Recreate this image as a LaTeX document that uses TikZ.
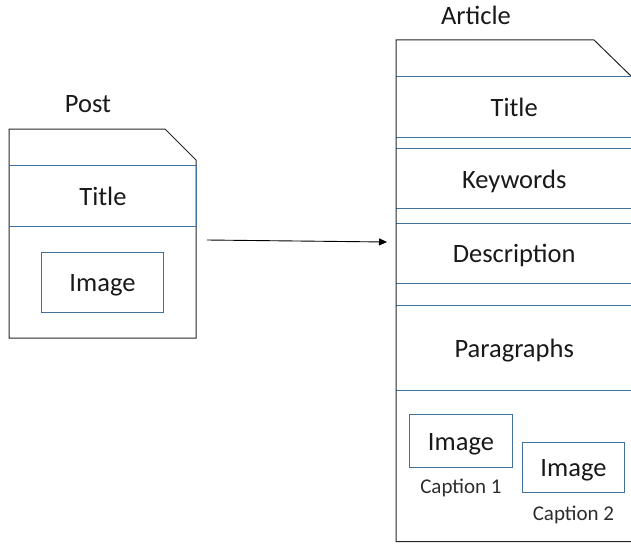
\documentclass[tikz,border=0pt]{standalone}
\usepackage{fontspec}
\setmainfont{Carlito}
\usetikzlibrary{arrows.meta}
\definecolor{bandblue}{RGB}{65,113,156}
\definecolor{txt}{RGB}{25,25,25}
\definecolor{captxt}{RGB}{45,45,45}
\begin{document}
\begin{tikzpicture}[x=1pt,y=-1pt,
  outline/.style={draw=black!85, line width=1pt},
  bandline/.style={draw=bandblue, line width=0.9pt},
  bigfont/.style={font=\fontsize{26.5}{30}\selectfont, text=txt, inner sep=0pt, text height=19pt, text depth=0pt},
  label/.style={bigfont},
  bandtext/.style={bigfont, anchor=north west},
  imgbox/.style={bigfont, draw=bandblue, line width=0.9pt, anchor=north west},
  captext/.style={font=\fontsize{21}{24}\selectfont, text=captxt, inner sep=0pt, text height=14.5pt, text depth=0pt},
  conn/.style={draw=black, line width=0.9pt, -{Triangle[length=8pt,width=7pt]}}]
\useasboundingbox (0,0) rectangle (631,543);
% ---------- Post ----------
\node[label] (postlabel) at (88,103) {Post};
\draw[outline] (9,129) -- (165,129) -- (196,160) -- (196,338) -- (9,338) -- cycle;
\node[imgbox, minimum width=187pt, minimum height=61pt] (ptitle) at (9,165) {Title};
\node[imgbox, minimum width=122pt, minimum height=60pt] (pimage) at (41,252) {Image};
\coordinate (postR) at (196,240);
% ---------- Article ----------
\node[label] (artlabel) at (476,15) {Article};
\node[bandtext, minimum width=236pt, minimum height=60pt] (atitle) at (396,76.7) {Title};
\node[bandtext, minimum width=236pt, minimum height=60pt] (akey) at (396,148.3) {Keywords};
\node[bandtext, minimum width=236pt, minimum height=59.4pt] (adesc) at (396,223.3) {Description};
\node[bandtext, minimum width=236pt, minimum height=84.6pt] (apara) at (396,305.7) {Paragraphs};
\foreach \n in {atitle,akey,adesc,apara}{
  \draw[bandline] (\n.north west) -- (\n.north east);
  \draw[bandline] (\n.south west) -- (\n.south east);
}
\draw[outline] (396,40) -- (594,40) -- (632,77) -- (632,541.5) -- (396,541.5) -- cycle;
\node[imgbox, minimum width=103pt, minimum height=53pt] (aimg1) at (409,414) {Image};
\node[captext] (cap1) at ([yshift=-18pt]aimg1.south) {Caption 1};
\node[imgbox, minimum width=102pt, minimum height=50pt] (aimg2) at (522,442) {Image};
\node[captext] (cap2) at ([yshift=-20pt]aimg2.south) {Caption 2};
\coordinate (artL) at (396,242);
% ---------- Connector ----------
\draw[conn] ([xshift=11pt]postR) -- ([xshift=-9pt]artL);
\end{tikzpicture}
\end{document}
